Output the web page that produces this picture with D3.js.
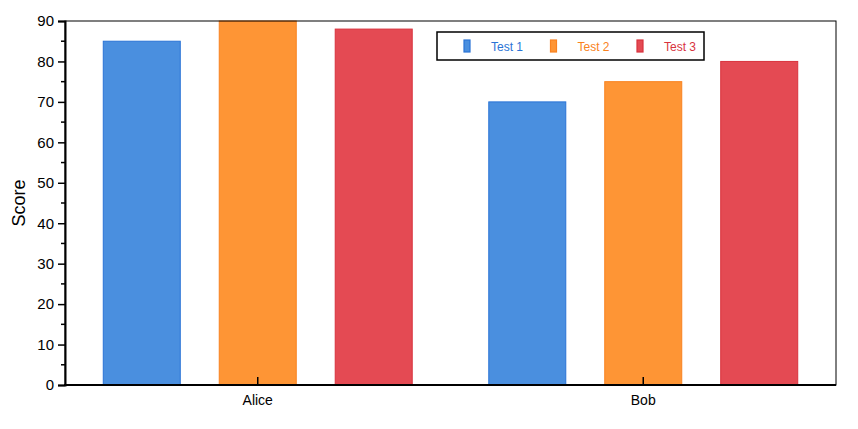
<!DOCTYPE html>
<html><head><meta charset="utf-8">
<script src="https://cdn.jsdelivr.net/npm/d3@7"></script>
<style>body{margin:0;background:#fff}text{font-family:"Helvetica Neue",Arial,"Liberation Sans",sans-serif}</style>
</head><body>
<script>
// données
const people = ['Alice', 'Bob'];
const tests = ['Test 1', 'Test 2', 'Test 3'];
const scores = [[85, 90, 88], [70, 75, 80]];
const fills = ['#4a8fdf', '#fe9535', '#e44a53'];
const strokes = ['#2a74d6', '#f98220', '#d8323d'];
const yTicks = [0, 10, 20, 30, 40, 50, 60, 70, 80, 90];

const W = 858, H = 429, L = 65, R = 836, T = 21, B = 385;
const svg = d3.select('body').append('svg').attr('width', W).attr('height', H);

const x0 = d3.scaleBand().domain(people).range([L, R]);
const x1 = d3.scaleBand().domain(tests).range([0, x0.bandwidth()]).paddingInner(0.336).paddingOuter(0.33);
const y = d3.scaleLinear().domain([0, 90]).range([B, T]);

// barres
people.forEach((p, i) => {
  svg.append('g').selectAll('rect').data(scores[i]).join('rect')
    .attr('x', (d, j) => x0(p) + x1(tests[j]))
    .attr('y', d => y(d))
    .attr('width', x1.bandwidth())
    .attr('height', d => B - y(d))
    .attr('fill', (d, j) => fills[j])
    .attr('stroke', (d, j) => strokes[j]).attr('stroke-width', 1);
});

// cadre
svg.append('rect').attr('x', L).attr('y', T).attr('width', R - L).attr('height', B - T)
  .attr('fill', 'none').attr('stroke', '#000').attr('stroke-width', 1);

// axe y
const ya = svg.append('g').attr('transform', `translate(${L},0)`)
  .call(d3.axisLeft(y).tickValues(yTicks).tickSize(7).tickPadding(4));
ya.select('.domain').attr('stroke-width', 2);
ya.selectAll('text').attr('font-size', 15).attr('fill', '#000');
ya.selectAll('line').attr('stroke-width', 1.5);
svg.append('g').selectAll('line').data(d3.range(5, 90, 10)).join('line')
  .attr('x1', L - 4).attr('x2', L).attr('y1', d => y(d)).attr('y2', d => y(d))
  .attr('stroke', '#000').attr('stroke-width', 1.5);

// axe x
svg.append('line').attr('x1', L - 1).attr('x2', R).attr('y1', B).attr('y2', B)
  .attr('stroke', '#000').attr('stroke-width', 2);
const xc = p => x0(p) + x0.bandwidth() / 2;
svg.append('g').selectAll('line').data(people).join('line')
  .attr('x1', xc).attr('x2', xc).attr('y1', B).attr('y2', B - 8)
  .attr('stroke', '#000').attr('stroke-width', 1.5);
svg.append('g').selectAll('text').data(people).join('text')
  .attr('x', xc).attr('y', B + 20).attr('text-anchor', 'middle')
  .attr('font-size', 14).text(d => d);

svg.append('text').attr('transform', `translate(25,${(T + B) / 2}) rotate(-90)`)
  .attr('text-anchor', 'middle').attr('font-size', 18).text('Score');

// légende
const lg = svg.append('g').attr('transform', 'translate(437,32)');
lg.append('rect').attr('width', 267).attr('height', 28).attr('fill', '#fff')
  .attr('stroke', '#000').attr('stroke-width', 1.5);
tests.forEach((t, j) => {
  const ox = 27 + j * 86.5;
  lg.append('rect').attr('x', ox).attr('y', 8).attr('width', 6).attr('height', 12)
    .attr('fill', fills[j]).attr('stroke', strokes[j]).attr('stroke-width', 1.2);
  lg.append('text').attr('x', ox + 27).attr('y', 19).attr('font-size', 12)
    .attr('fill', strokes[j]).text(t);
});
</script>
</body></html>
